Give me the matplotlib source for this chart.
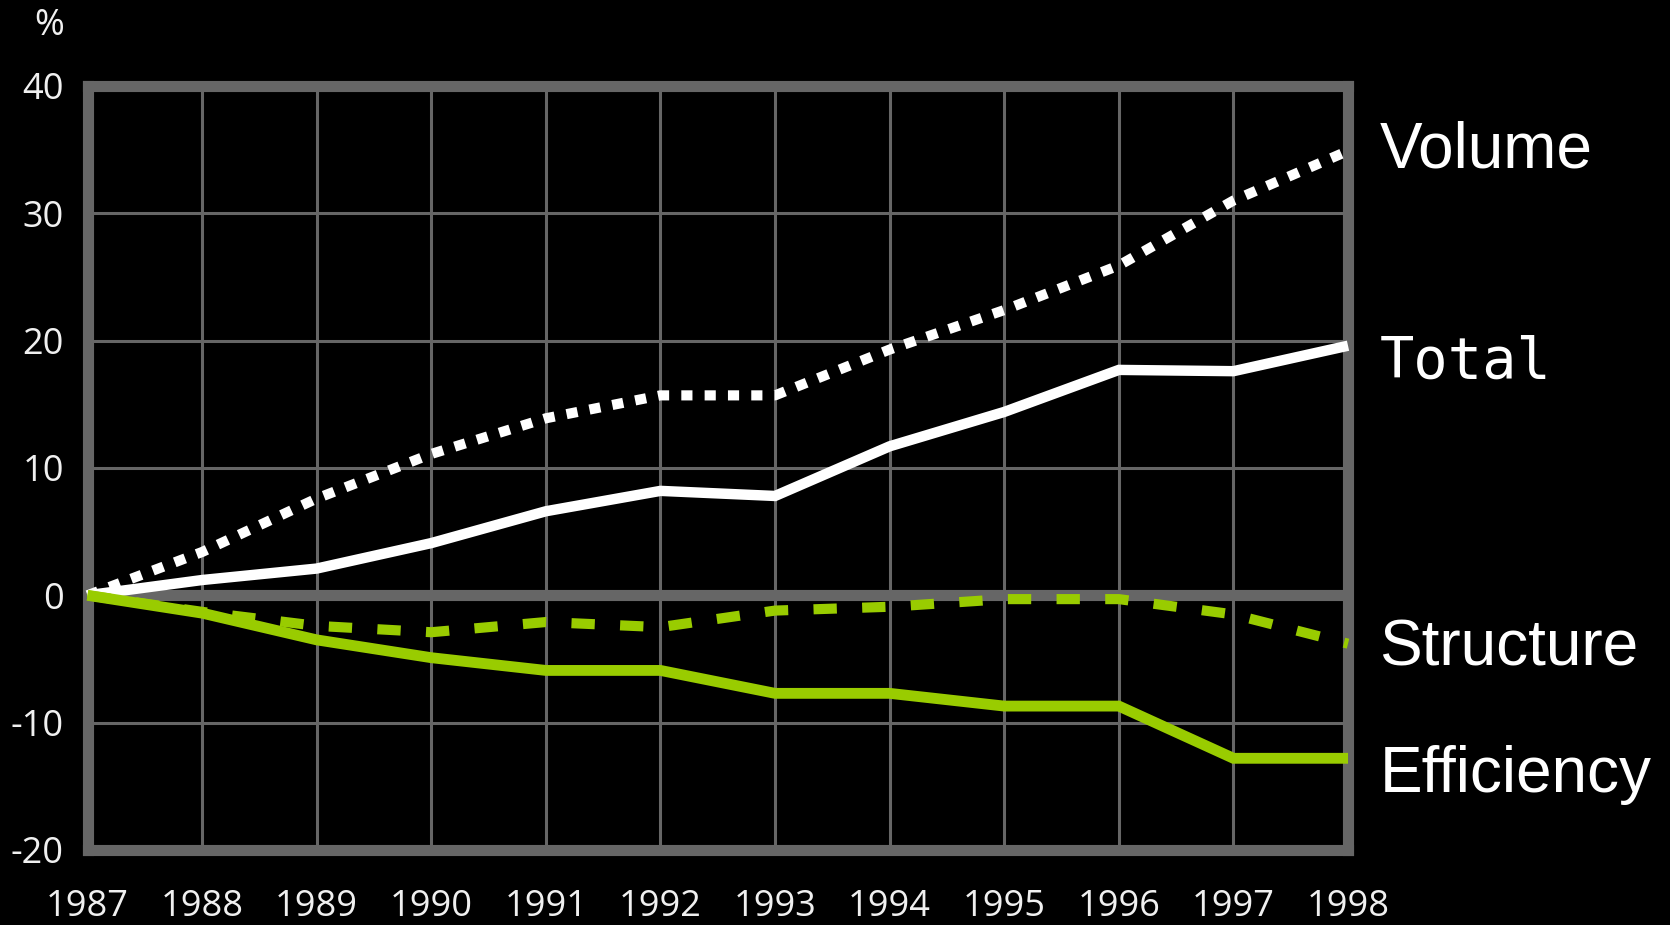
import matplotlib
matplotlib.use("Agg")
import matplotlib.pyplot as plt

# index change vs 1987, in %
years = [1987, 1988, 1989, 1990, 1991, 1992, 1993, 1994, 1995, 1996, 1997, 1998]
volume = [0, 3.4, 7.6, 11.1, 13.9, 15.7, 15.7, 19.3, 22.4, 25.9, 31.0, 34.9]
total = [0, 1.2, 2.1, 4.1, 6.6, 8.2, 7.8, 11.7, 14.4, 17.7, 17.6, 19.6]
structure = [0, -1.3, -2.4, -2.9, -2.1, -2.5, -1.2, -0.9, -0.3, -0.3, -1.5, -3.8]
efficiency = [0, -1.4, -3.5, -4.9, -5.9, -5.9, -7.7, -7.7, -8.7, -8.7, -12.8, -12.8]

y_ticks = [-20, -10, 0, 10, 20, 30, 40]
y_labels = ["-20", "-10", "0", "10", "20", "30", "40"]
x_labels = [str(y) for y in years]

GREY = "#666666"
GREEN = "#99cc00"

fig = plt.figure(figsize=(16.7, 9.25), dpi=100, facecolor="black")
ax = fig.add_axes([0.0524, 0.0811, 0.7548, 0.826], facecolor="black")

ax.set_xlim(years[0], years[-1])
ax.set_ylim(-20, 40)
ax.set_xticks(years)
ax.set_xticklabels(x_labels)
ax.set_yticks(y_ticks)
ax.set_yticklabels(y_labels)
ax.tick_params(axis="both", length=0, colors="#f0f0f0", labelsize=26)
ax.tick_params(axis="x", pad=28)
ax.tick_params(axis="y", pad=17)
for lab in ax.get_xticklabels() + ax.get_yticklabels():
    lab.set_fontfamily(["Open Sans", "DejaVu Sans"])

ax.grid(True, color=GREY, linewidth=2.2, zorder=1)
ax.set_axisbelow(True)
for sp in ax.spines.values():
    sp.set_color(GREY)
    sp.set_linewidth(8)
ax.axhline(0, color=GREY, linewidth=8, zorder=1.5)

ax.plot(years, volume, color="white", lw=7.3, dashes=(1.1, 1.2),
        solid_capstyle="butt", dash_capstyle="butt", zorder=3, clip_on=False)
ax.plot(years, total, color="white", lw=7.5, solid_capstyle="butt",
        solid_joinstyle="miter", zorder=3, clip_on=False)
ax.plot(years, structure, color=GREEN, lw=7.3, dashes=(2.3, 2.5),
        dash_capstyle="butt", zorder=3, clip_on=False)
ax.plot(years, efficiency, color=GREEN, lw=7.8, solid_capstyle="butt",
        solid_joinstyle="miter", zorder=3, clip_on=False)

ax.text(-0.019, 1.078, "%", transform=ax.transAxes, ha="right", va="center",
        color="#f0f0f0", fontsize=26, family=["Open Sans", "DejaVu Sans"])

lab_x = 1.025
ax.text(lab_x, volume[-1], "Volume", transform=ax.get_yaxis_transform(),
        ha="left", va="center", color="white", fontsize=46,
        family="Liberation Sans")
ax.text(lab_x, 18.3, "Total", transform=ax.get_yaxis_transform(),
        ha="left", va="center", color="white", fontsize=41,
        family="DejaVu Sans Mono")
ax.text(lab_x, -4.15, "Structure", transform=ax.get_yaxis_transform(),
        ha="left", va="center", color="white", fontsize=46,
        family="Liberation Sans")
ax.text(lab_x, -14.1, "Efficiency", transform=ax.get_yaxis_transform(),
        ha="left", va="center", color="white", fontsize=46,
        family="Liberation Sans")

fig.savefig("out.png", dpi=100, facecolor="black")
